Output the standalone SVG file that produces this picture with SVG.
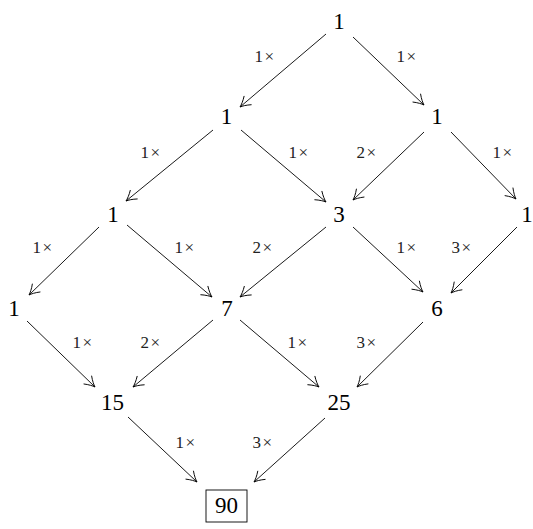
<svg xmlns="http://www.w3.org/2000/svg" width="533" height="529" viewBox="0 0 533 529">
<style>
text{font-family:'Liberation Serif','Times New Roman',serif}
.n{font-size:23px;text-anchor:middle;fill:#000}
.l{font-size:17px;text-anchor:middle;fill:#222;letter-spacing:1.5px}
.e{stroke:#000;stroke-width:0.9;fill:none;marker-end:url(#ah)}
</style>
<defs>
<marker id="ah" markerUnits="userSpaceOnUse" markerWidth="14" markerHeight="14" viewBox="-12 -7 14 14" refX="0" refY="0" orient="auto">
<path d="M-10,-5.5 C-6,-2.5 -2.5,-0.8 0,0 C-2.5,0.8 -6,2.5 -10,5.5" fill="none" stroke="#000" stroke-width="0.9" stroke-linecap="round"/>
</marker>
</defs>
<g id="connectors">
<line class="e" x1="326" y1="34" x2="240" y2="107"/>
<line class="e" x1="353" y1="37" x2="424" y2="105"/>
<line class="e" x1="213" y1="130" x2="126" y2="201"/>
<line class="e" x1="241" y1="130" x2="326" y2="202"/>
<line class="e" x1="424" y1="132" x2="353" y2="200"/>
<line class="e" x1="451" y1="132" x2="516" y2="199"/>
<line class="e" x1="99" y1="227" x2="29" y2="295"/>
<line class="e" x1="127" y1="225" x2="212" y2="297"/>
<line class="e" x1="326" y1="227" x2="240" y2="297"/>
<line class="e" x1="353" y1="227" x2="423" y2="292"/>
<line class="e" x1="517" y1="227" x2="451" y2="293"/>
<line class="e" x1="27" y1="321" x2="95" y2="387"/>
<line class="e" x1="213" y1="320" x2="133" y2="387"/>
<line class="e" x1="240" y1="320" x2="319" y2="387"/>
<line class="e" x1="423" y1="322" x2="357" y2="387"/>
<line class="e" x1="128" y1="417" x2="197" y2="482"/>
<line class="e" x1="325" y1="418" x2="254" y2="482"/>
</g>
<g id="labels">
<text class="l" x="265" y="62">1×</text>
<text class="l" x="407" y="62">1×</text>
<text class="l" x="151" y="158">1×</text>
<text class="l" x="299" y="158">1×</text>
<text class="l" x="367" y="158">2×</text>
<text class="l" x="503" y="158">1×</text>
<text class="l" x="43" y="253">1×</text>
<text class="l" x="185" y="253">1×</text>
<text class="l" x="263" y="253">2×</text>
<text class="l" x="407" y="253">1×</text>
<text class="l" x="462" y="253">3×</text>
<text class="l" x="83" y="348">1×</text>
<text class="l" x="151" y="348">2×</text>
<text class="l" x="298" y="348">1×</text>
<text class="l" x="367" y="348">3×</text>
<text class="l" x="186" y="448">1×</text>
<text class="l" x="263" y="448">3×</text>
</g>
<g id="n00"><text class="n" x="339" y="29">1</text></g>
<g id="n10"><text class="n" x="226.5" y="124">1</text></g>
<g id="n11"><text class="n" x="437" y="124">1</text></g>
<g id="n20"><text class="n" x="113" y="222">1</text></g>
<g id="n21"><text class="n" x="339" y="222">3</text></g>
<g id="n22"><text class="n" x="527" y="222">1</text></g>
<g id="n30"><text class="n" x="14" y="316">1</text></g>
<g id="n31"><text class="n" x="227" y="316">7</text></g>
<g id="n32"><text class="n" x="437" y="316">6</text></g>
<g id="n40"><text class="n" x="112.5" y="410">15</text></g>
<g id="n41"><text class="n" x="339" y="410">25</text></g>
<g id="n50"><rect x="206" y="490" width="41" height="32" fill="none" stroke="#000" stroke-width="0.9"/><text class="n" x="226.5" y="513">90</text></g>
</svg>
